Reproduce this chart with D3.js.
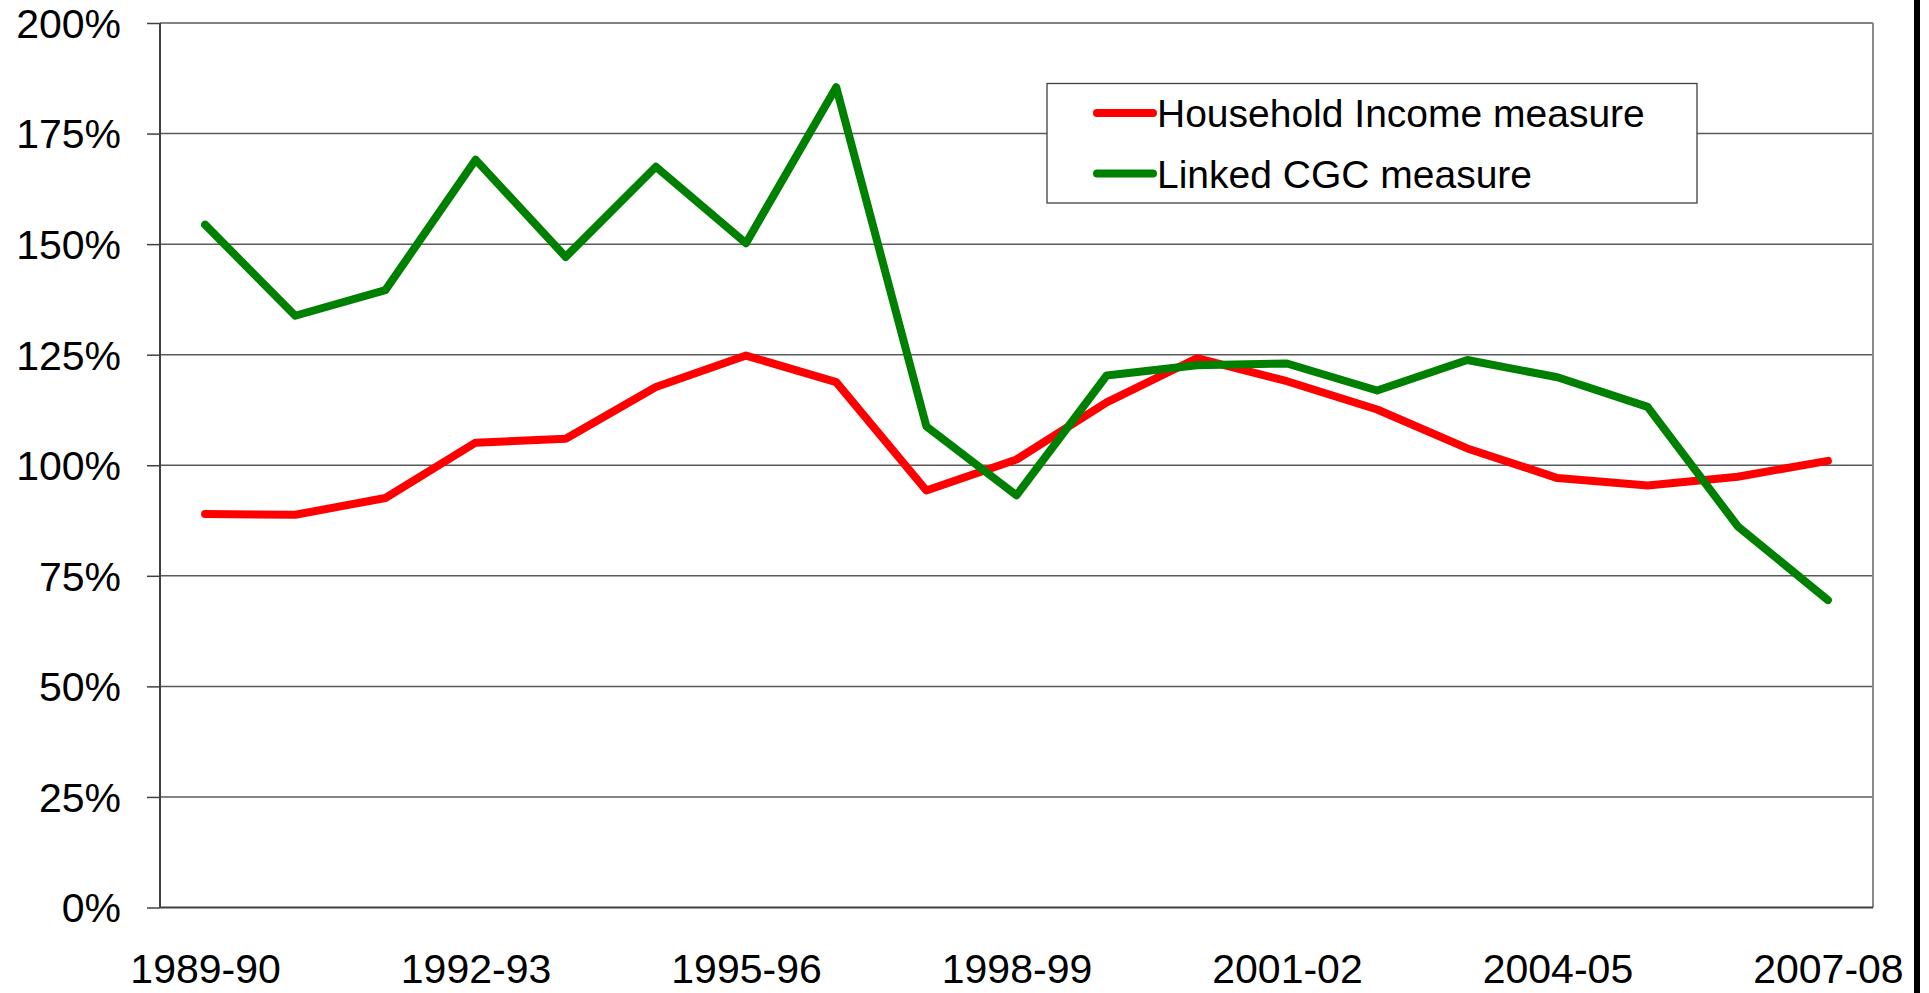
<!DOCTYPE html>
<html>
<head>
<meta charset="utf-8">
<script src="https://cdn.jsdelivr.net/npm/d3@7"></script>
<style>
  html, body { margin: 0; padding: 0; background: #fff; }
  svg { display: block; }
  text { font-family: "Liberation Sans", Arial, sans-serif; fill: #000; }
</style>
</head>
<body>
<svg id="chart" width="1929" height="993"></svg>
<script>
const categories = ["1989-90","1990-91","1991-92","1992-93","1993-94","1994-95","1995-96","1996-97","1997-98","1998-99","1999-00","2000-01","2001-02","2002-03","2003-04","2004-05","2005-06","2006-07","2007-08"];
const householdIncome = [89.0, 88.8, 92.6, 105.1, 106.0, 117.7, 124.8, 118.8, 94.3, 101.3, 114.2, 124.2, 119.0, 112.6, 103.8, 97.1, 95.4, 97.4, 101.0];
const linkedCGC = [154.4, 133.8, 139.6, 169.1, 147.1, 167.5, 150.2, 185.5, 108.8, 93.2, 120.3, 122.6, 123.0, 116.9, 123.8, 119.9, 113.2, 86.2, 69.5];
const yTicks = [0, 25, 50, 75, 100, 125, 150, 175, 200];
const xTickLabels = ["1989-90","1992-93","1995-96","1998-99","2001-02","2004-05","2007-08"];
const seriesNames = ["Household Income measure", "Linked CGC measure"];
const seriesColors = ["#ff0000", "#008000"];

const svg = d3.select("#chart");
const plotL = 160, plotR = 1873, plotT = 23, plotB = 907.5;

const x = d3.scalePoint().domain(categories).range([plotL, plotR]).padding(0.5);
const y = d3.scaleLinear().domain([0, 200]).range([plotB, plotT]);

// gridlines
svg.append("g").selectAll("line").data(yTicks.filter(d => d > 0)).join("line")
  .attr("x1", plotL).attr("x2", plotR)
  .attr("y1", d => y(d)).attr("y2", d => y(d))
  .attr("stroke", "#5a5a5a").attr("stroke-width", 1.5);

// right border
svg.append("line").attr("x1", plotR).attr("x2", plotR).attr("y1", plotT).attr("y2", plotB)
  .attr("stroke", "#8a8a8a").attr("stroke-width", 2);

// y axis
const yAxis = svg.append("g").attr("transform", `translate(${plotL},0)`)
  .call(d3.axisLeft(y).tickValues(yTicks).tickSize(13).tickPadding(26).tickFormat(d => d + "%"));
yAxis.select(".domain").attr("stroke", "#404040").attr("stroke-width", 2).attr("d", `M0,${plotT}V${plotB}`);
yAxis.selectAll(".tick line").attr("stroke", "#404040").attr("stroke-width", 1.5);
yAxis.selectAll(".tick text").attr("font-size", 41).attr("font-family", "Liberation Sans, Arial, sans-serif").attr("dy", "0.35em").attr("fill", "#000");

// x axis
const xAxis = svg.append("g").attr("transform", `translate(0,${plotB})`)
  .call(d3.axisBottom(x).tickValues(xTickLabels).tickSize(0).tickPadding(46));
xAxis.select(".domain").attr("stroke", "#404040").attr("stroke-width", 2).attr("d", `M${plotL},0H${plotR}`);
xAxis.selectAll(".tick text").attr("font-size", 41).attr("font-family", "Liberation Sans, Arial, sans-serif").attr("fill", "#000");

// lines
const line = d3.line().x((d, i) => x(categories[i])).y(d => y(d));
[householdIncome, linkedCGC].forEach((s, k) => {
  svg.append("path").datum(s).attr("d", line)
    .attr("fill", "none").attr("stroke", seriesColors[k]).attr("stroke-width", 8)
    .attr("stroke-linejoin", "round").attr("stroke-linecap", "round");
});

// legend
const lg = svg.append("g");
lg.append("rect").attr("x", 1047).attr("y", 83.5).attr("width", 650).attr("height", 119.5)
  .attr("fill", "#fff").attr("stroke", "#404040").attr("stroke-width", 1.3);
seriesNames.forEach((name, k) => {
  const cy = 113 + k * 60.5;
  lg.append("line").attr("x1", 1097).attr("x2", 1153).attr("y1", cy).attr("y2", cy)
    .attr("stroke", seriesColors[k]).attr("stroke-width", 8).attr("stroke-linecap", "round");
  lg.append("text").attr("x", 1157).attr("y", cy).attr("dy", "0.36em")
    .attr("font-size", 39).text(name);
});

// right black bar
svg.append("rect").attr("x", 1914).attr("y", 0).attr("width", 6).attr("height", 993).attr("fill", "#000");
</script>
</body>
</html>
